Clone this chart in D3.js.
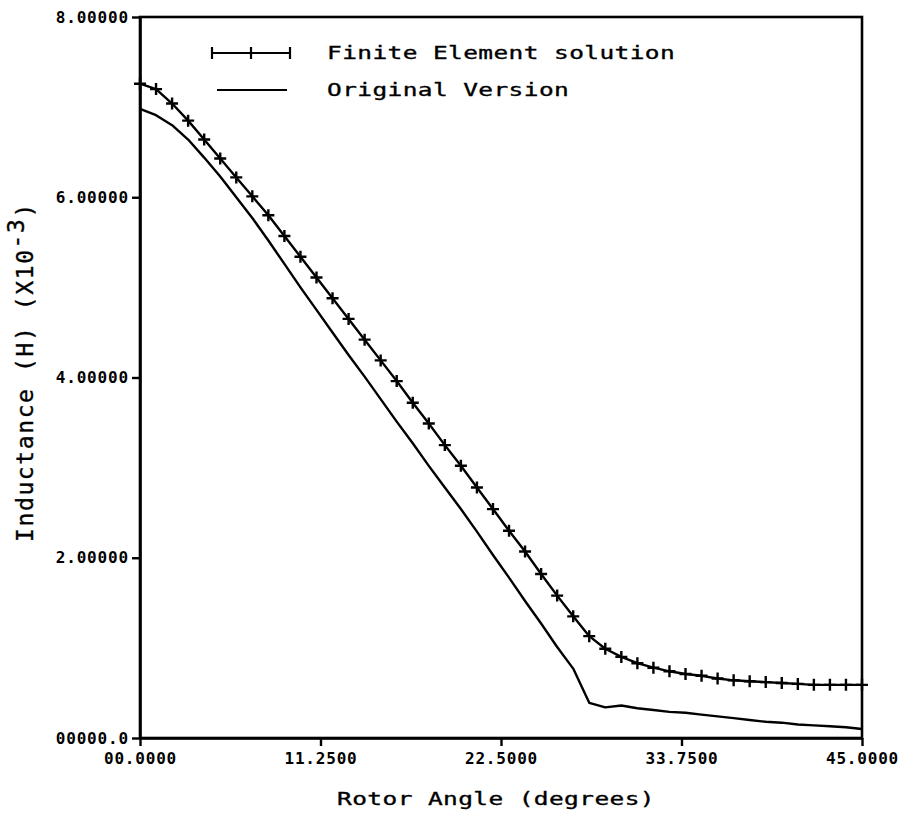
<!DOCTYPE html>
<html>
<head>
<meta charset="utf-8">
<script src="https://cdn.jsdelivr.net/npm/d3@7"></script>
<style>
  body { margin: 0; background: #fff; }
  svg { display: block; }
</style>
</head>
<body>
<svg id="chart"></svg>
<script>
// rotor angle in degrees, one sample per degree
let angles = d3.range(0, 46)
// finite element solution, inductance (H) x10^-3
let feValues = [7.26, 7.20, 7.04, 6.85, 6.64, 6.43, 6.22, 6.01, 5.80, 5.57,
  5.34, 5.11, 4.88, 4.65, 4.42, 4.19, 3.96, 3.72, 3.49, 3.25,
  3.02, 2.78, 2.54, 2.30, 2.07, 1.82, 1.58, 1.35, 1.13, 0.99,
  0.90, 0.83, 0.78, 0.74, 0.71, 0.69, 0.66, 0.64, 0.63, 0.62,
  0.61, 0.60, 0.59, 0.59, 0.59, 0.59]
// original version
let origValues = [6.98, 6.91, 6.80, 6.64, 6.44, 6.23, 6.00, 5.77, 5.52, 5.26,
  5.00, 4.75, 4.50, 4.25, 4.01, 3.76, 3.51, 3.27, 3.02, 2.78,
  2.54, 2.29, 2.03, 1.78, 1.52, 1.27, 1.01, 0.77, 0.39, 0.34,
  0.36, 0.33, 0.31, 0.29, 0.28, 0.26, 0.24, 0.22, 0.20, 0.18,
  0.17, 0.15, 0.14, 0.13, 0.12, 0.10]

let xTicks = [0, 11.25, 22.5, 33.75, 45]
let xTickLabels = ['00.0000', '11.2500', '22.5000', '33.7500', '45.0000']
let yTicks = [0, 2, 4, 6, 8]
let yTickLabels = ['00000.0', '2.00000', '4.00000', '6.00000', '8.00000']
let legendLabels = ['Finite Element solution', 'Original Version']

let W = 899, H = 817
let margin = { top: 17, right: 37, bottom: 79, left: 140 }
let width = W - margin.left - margin.right
let height = H - margin.top - margin.bottom

let svg = d3.select('#chart').attr('width', W).attr('height', H)
svg.append('rect').attr('width', W).attr('height', H).attr('fill', '#fff')

let chart = svg.append('g')
  .attr('transform', 'translate(' + margin.left + ',' + margin.top + ')')

let x = d3.scaleLinear().domain([0, 45]).range([0, width])
let y = d3.scaleLinear().domain([0, 8]).range([height, 0])

let mono = "'DejaVu Sans Mono', 'Liberation Mono', monospace"

// frame
chart.append('rect')
  .attr('width', width).attr('height', height)
  .attr('fill', 'none').attr('stroke', '#000').attr('stroke-width', 2.6)

let xAxis = d3.axisBottom(x).tickValues(xTicks)
  .tickFormat((d, i) => xTickLabels[i]).tickSize(8).tickSizeOuter(0).tickPadding(7)
let yAxis = d3.axisLeft(y).tickValues(yTicks)
  .tickFormat((d, i) => yTickLabels[i]).tickSize(8).tickSizeOuter(0).tickPadding(4)

let gx = chart.append('g').attr('transform', 'translate(0,' + height + ')').call(xAxis)
let gy = chart.append('g').call(yAxis)

for (let g of [gx, gy]) {
  g.select('.domain').attr('stroke-width', 2.6)
  g.selectAll('.tick line').attr('stroke-width', 2.4)
  g.selectAll('.tick text')
    .attr('fill', '#000')
    .attr('font-family', mono)
    .attr('font-weight', 'bold')
    .attr('font-size', '16px')
    .attr('letter-spacing', '0.8px')
}
gy.selectAll('.tick text').attr('dx', '0.8px')

// curves
let line = d3.line()
  .x((d, i) => x(angles[i]))
  .y(d => y(d))

chart.append('path')
  .datum(origValues)
  .attr('d', line)
  .attr('fill', 'none').attr('stroke', '#000').attr('stroke-width', 2.4)
  .attr('stroke-linejoin', 'round')

chart.append('path')
  .datum(feValues)
  .attr('d', line)
  .attr('fill', 'none').attr('stroke', '#000').attr('stroke-width', 2.4)
  .attr('stroke-linejoin', 'round')

let plus = (g, s) => g.append('path')
  .attr('d', 'M' + (-s) + ',0H' + s + 'M0,' + (-s) + 'V' + s)
  .attr('stroke', '#000').attr('stroke-width', 2.4).attr('fill', 'none')

chart.append('g').selectAll('g')
  .data(feValues)
  .join('g')
  .attr('transform', (d, i) => 'translate(' + x(angles[i]) + ',' + y(d) + ')')
  .each(function () { plus(d3.select(this), 6) })

// legend
let legend = chart.append('g').attr('transform', 'translate(72,36)')
legend.append('line').attr('x1', 0).attr('x2', 78).attr('y1', 0).attr('y2', 0)
  .attr('stroke', '#000').attr('stroke-width', 2.2)
for (let px of [0, 39, 78]) {
  legend.append('line').attr('x1', px).attr('x2', px).attr('y1', -6).attr('y2', 6)
    .attr('stroke', '#000').attr('stroke-width', 2.2)
}
legend.append('line').attr('x1', 5).attr('x2', 75).attr('y1', 37).attr('y2', 37)
  .attr('stroke', '#000').attr('stroke-width', 2.2)

// plotter lettering: wide glyphs, so stretch horizontally
let sx = 1.36
legend.selectAll('text.lab')
  .data(legendLabels)
  .join('text')
  .attr('class', 'lab')
  .attr('transform', (d, i) => 'translate(115,' + (6 + i * 37) + ') scale(' + sx + ',1)')
  .attr('font-family', mono)
  .attr('font-size', '18px')
  .attr('letter-spacing', '0.3px')
  .attr('fill', '#000')
  .attr('stroke', '#000').attr('stroke-width', 0.35)
  .text(d => d)

// axis titles
svg.append('text')
  .attr('transform', 'translate(496,805) scale(' + sx + ',1)')
  .attr('text-anchor', 'middle')
  .attr('font-family', mono)
  .attr('font-size', '18px')
  .attr('letter-spacing', '0.3px')
  .attr('fill', '#000')
  .attr('stroke', '#000').attr('stroke-width', 0.35)
  .text('Rotor Angle (degrees)')

let yTitle = svg.append('text')
  .attr('transform', 'translate(33,372) rotate(-90)')
  .attr('text-anchor', 'middle')
  .attr('font-family', mono)
  .attr('font-size', '23px')
  .attr('letter-spacing', '1.6px')
  .attr('fill', '#000')
  .attr('stroke', '#000').attr('stroke-width', 0.35)
yTitle.append('tspan').text('Inductance (H) (X10')
yTitle.append('tspan').attr('dy', -9).text('-3')
yTitle.append('tspan').attr('dy', 9).text(')')
</script>
</body>
</html>
